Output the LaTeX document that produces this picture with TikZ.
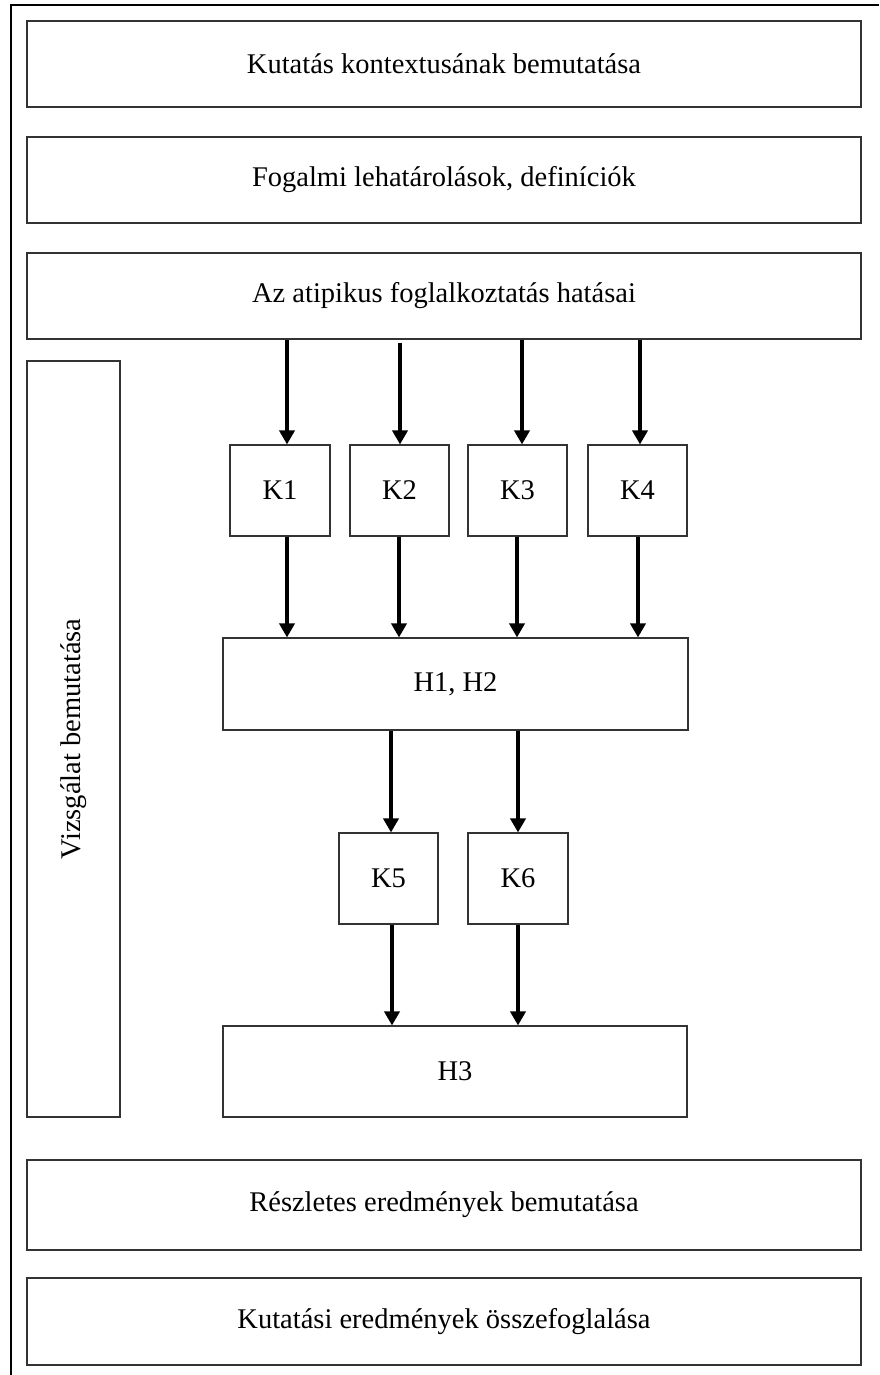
\documentclass[tikz,border=0pt]{standalone}
\usepackage{fontspec}
\setmainfont{Liberation Serif}
\usetikzlibrary{arrows.meta}
\begin{document}
\begin{tikzpicture}[x=1pt,y=-1pt,
  txt/.style={font=\fontsize{28.5}{32}\selectfont},
  box/.style={draw=black!80, line width=1.1pt, rectangle, inner sep=0pt, txt, anchor=center},
  arr/.style={line width=3.6pt, -{Triangle[width=15pt,length=14pt]}},
  frame/.style={line width=2.4pt}]
\useasboundingbox (0,0) rectangle (879,1375);
\draw[frame] (11,1375) -- (11,5) -- (879,5);
% wide boxes
\node[box, minimum width=834pt, minimum height=86pt] (b1) at (444,64) {Kutatás kontextusának bemutatása};
\node[box, minimum width=834pt, minimum height=86pt] (b2) at (444,180) {Fogalmi lehatárolások, definíciók};
\node[box, minimum width=834pt, minimum height=86pt] (b3) at (444,296) {Az atipikus foglalkoztatás hatásai};
\node[box, minimum width=834pt, minimum height=90pt] (b4) at (444,1205) {Részletes eredmények bemutatása};
\node[box, minimum width=834pt, minimum height=87pt] (b5) at (444,1321.5) {Kutatási eredmények összefoglalása};
% side box
\node[box, minimum width=93pt, minimum height=756pt] (viz) at (73.5,739) {};
\node[txt, rotate=90] (vizt) at (viz.center) {Vizsgálat bemutatása};
% K1-K4
\node[box, minimum width=100pt, minimum height=91pt] (k1) at (280,490.5) {K1};
\node[box, minimum width=99pt, minimum height=91pt] (k2) at (399.5,490.5) {K2};
\node[box, minimum width=99pt, minimum height=91pt] (k3) at (517.5,490.5) {K3};
\node[box, minimum width=99pt, minimum height=91pt] (k4) at (637.5,490.5) {K4};
\node[box, minimum width=465pt, minimum height=92pt] (h12) at (455.5,684) {H1, H2};
\node[box, minimum width=99pt, minimum height=91pt] (k5) at (388.5,878.5) {K5};
\node[box, minimum width=100pt, minimum height=91pt] (k6) at (518,878.5) {K6};
\node[box, minimum width=464pt, minimum height=91pt] (h3) at (455,1071.5) {H3};
% arrow columns
\coordinate (a1) at (287,0);
\coordinate (a2) at (400,0);
\coordinate (a3) at (522,0);
\coordinate (a4) at (640,0);
\coordinate (c1) at (287,0);
\coordinate (c2) at (399,0);
\coordinate (c3) at (517,0);
\coordinate (c4) at (638,0);
\coordinate (d1) at (391,0);
\coordinate (d2) at (518,0);
\coordinate (e1) at (392,0);
\coordinate (e2) at (518,0);
\draw[arr] (b3.south -| a1) -- (k1.north -| a1);
\draw[arr] ([yshift=-3pt]b3.south -| a2) -- (k2.north -| a2);
\draw[arr] (b3.south -| a3) -- (k3.north -| a3);
\draw[arr] (b3.south -| a4) -- (k4.north -| a4);
\draw[arr] (k1.south -| c1) -- (h12.north -| c1);
\draw[arr] (k2.south -| c2) -- (h12.north -| c2);
\draw[arr] (k3.south -| c3) -- (h12.north -| c3);
\draw[arr] (k4.south -| c4) -- (h12.north -| c4);
\draw[arr] (h12.south -| d1) -- (k5.north -| d1);
\draw[arr] (h12.south -| d2) -- (k6.north -| d2);
\draw[arr] (k5.south -| e1) -- (h3.north -| e1);
\draw[arr] (k6.south -| e2) -- (h3.north -| e2);
\end{tikzpicture}
\end{document}
